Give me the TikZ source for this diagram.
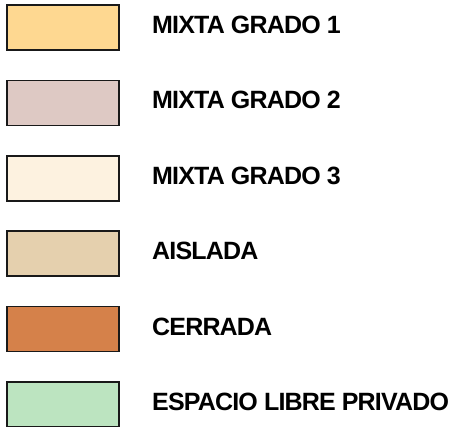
\documentclass[tikz,border=0pt]{standalone}
\usepackage{fontspec}
\setmainfont{Liberation Sans}
\newfontfamily\lblfont[LetterSpace=-3.3]{Liberation Sans}
\definecolor{cA}{RGB}{254,216,145}
\definecolor{cB}{RGB}{222,201,196}
\definecolor{cC}{RGB}{253,242,224}
\definecolor{cD}{RGB}{229,208,174}
\definecolor{cE}{RGB}{213,129,74}
\definecolor{cF}{RGB}{188,228,192}
\begin{document}
\begin{tikzpicture}[x=1pt,y=1pt,
  swatch/.style={draw=black!90,line width=1.7pt,minimum width=112pt,minimum height=45pt,inner sep=0pt,outer sep=0pt},
  lbl/.style={anchor=base west,inner sep=0pt,font=\lblfont\fontsize{25}{26}\selectfont\bfseries}]
\useasboundingbox (0,0) rectangle (460,427);
\foreach \i/\c/\t in {0/cA/MIXTA GRADO 1,1/cB/MIXTA GRADO 2,2/cC/MIXTA GRADO 3,3/cD/AISLADA,4/cE/CERRADA,5/cF/ESPACIO LIBRE PRIVADO}{
  \node[swatch,fill=\c] (s\i) at (63,{427-27.5-75.4*\i}) {};
  \node[lbl] (t\i) at (152,{427-27.5-75.4*\i-6}) {\t};
}
\end{tikzpicture}
\end{document}
